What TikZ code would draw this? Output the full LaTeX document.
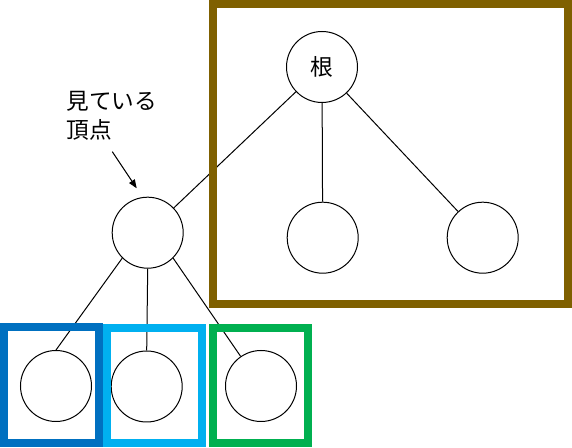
\documentclass[tikz,border=0pt]{standalone}
\usepackage{fontspec}
\newfontfamily\cjk{Noto Sans CJK JP}
\usetikzlibrary{arrows.meta}

\definecolor{boxbrown}{HTML}{7F6000}
\definecolor{boxblue}{HTML}{0070C0}
\definecolor{boxsky}{HTML}{00B0F0}
\definecolor{boxgreen}{HTML}{00B050}

\tikzset{every picture/.style={line width=0.75pt}}
\tikzset{
  vertex/.style={draw, circle, fill=white, minimum size=53.25pt, inner sep=0pt,
    font=\cjk\fontsize{17}{20}\selectfont},
  frame/.style={line width=6pt},
}

\begin{document}
\begin{tikzpicture}[x=0.75pt,y=0.75pt,yscale=-1,xscale=1]
        \useasboundingbox (0,0) rectangle (572,448);

        %Shape: Circle [id:root]
        \node[vertex] (root) at (322,67) {根};
        %Shape: Circle [id:seen]
        \node[vertex] (seen) at (147.7,232.7) {};
        %Shape: Circle [id:mid]
        \node[vertex] (mid) at (322.7,237.7) {};
        %Shape: Circle [id:right]
        \node[vertex] (right) at (482.7,237.7) {};
        %Shape: Circle [id:kid1]
        \node[vertex] (kid1) at (56,386) {};
        %Shape: Circle [id:kid2]
        \node[vertex] (kid2) at (146.7,386.5) {};
        %Shape: Circle [id:kid3]
        \node[vertex] (kid3) at (261,386) {};

        %Straight Lines
        \draw    (root) -- (seen) ;
        \draw    (root) -- (mid) ;
        \draw    (root) -- (right) ;
        \draw    (seen.south west) -- (kid1.north) ;
        \draw    (seen.south) -- (kid2.north) ;
        \draw    (seen.south east) -- (kid3) ;

        % Text Node
        \node[anchor=north west, inner sep=0pt, align=left,
          font=\cjk\fontsize{17}{21.75}\selectfont] (label) at (66,91) {見ている\\頂点};
        %Straight Lines [arrow]
        \coordinate (arrowfrom) at (112.3,151.7);
        \coordinate (arrowto) at (136.7,188.3);
        \draw[-{Triangle[length=6.5pt,width=5pt]}]    (arrowfrom) -- (arrowto) ;

        %Shape: Rectangle [frames]
        \draw[frame, boxbrown]   (213,4) rectangle (568,304.5) ;
        \draw[frame, boxblue]    (4,327.5) rectangle (99,443) ;
        \draw[frame, boxsky]     (107,328) rectangle (202,443) ;
        \draw[frame, boxgreen]   (213,328) rectangle (308,443) ;

    \end{tikzpicture}
\end{document}
